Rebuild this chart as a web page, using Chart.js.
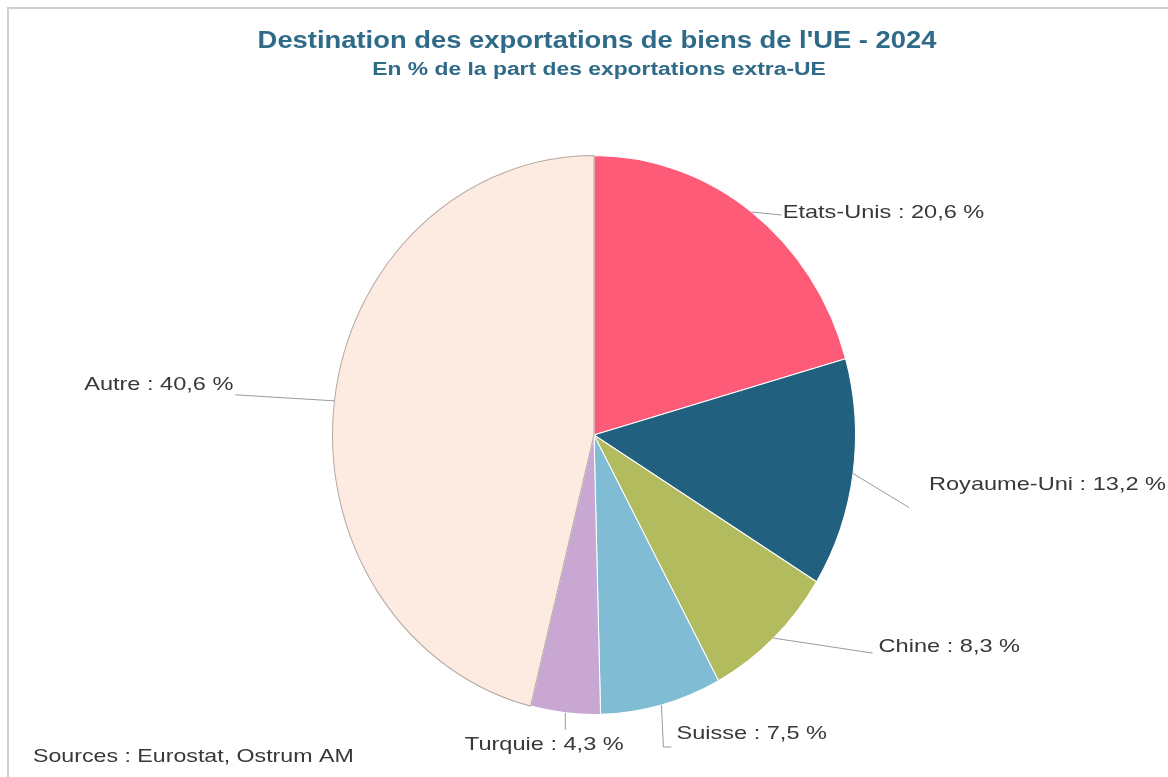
<!DOCTYPE html>
<html>
<head>
<meta charset="utf-8">
<script src="https://cdn.jsdelivr.net/npm/chart.js@4"></script>
<style>
  html, body { margin: 0; padding: 0; background: #fff; }
  #wrap { position: relative; width: 1168px; height: 777px; }
  #frame { position: absolute; left: 7px; top: 7px; right: 0; bottom: 0; border-top: 2px solid #cfcfcf; border-left: 2px solid #cfcfcf; }
  canvas { position: absolute; left: 0; top: 0; }
</style>
</head>
<body>
<div id="wrap">
  <div id="frame"></div>
  <canvas id="pie" width="1168" height="777"></canvas>
</div>
<script>
const CATEGORIES = ["Etats-Unis", "Royaume-Uni", "Chine", "Suisse", "Turquie", "Autre"];
// slice sizes as drawn in the picture (the "Autre" wedge fills the rest of the circle)
const SLICES = [20.6, 13.2, 8.3, 7.5, 4.3, 46.1];
// values printed in the labels
const LABEL_VALUES = ["20,6", "13,2", "8,3", "7,5", "4,3", "40,6"];
const COLORS = ["#fd5b78", "#21607e", "#b2bb5e", "#80bcd4", "#c8a8d3", "#fdebe1"];

const TITLE = "Destination des exportations de biens de l'UE - 2024";
const SUBTITLE = "En % de la part des exportations extra-UE";
const SOURCE = "Sources : Eurostat, Ostrum AM";

const SY = 280 / 262; // the picture is stretched vertically
const FONT = "'Liberation Sans', Arial, sans-serif";

// leader line shapes, relative to the anchor on the pie edge
const LEADERS = [
  { pts: [[30, 3]], tx: 31, ty: 1, align: "left" },
  { pts: [[56, 34]], tx: 76, ty: 11, align: "left" },
  { pts: [[99, 15]], tx: 105, ty: 9, align: "left" },
  { pts: [[2, 42], [10, 42]], tx: 15, ty: 29, align: "left" },
  { pts: [[0, 17]], tx: -21, ty: 32, align: "center" },
  { pts: [[-99, -6]], tx: -101, ty: -16, align: "right" },
];

// text in the picture is wider than normal, so squeeze it out horizontally
function wideText(ctx, text, x, y, align, sx) {
  ctx.save();
  ctx.translate(x, y);
  ctx.scale(sx, 1);
  ctx.textAlign = align;
  ctx.fillText(text, 0, 0);
  ctx.restore();
}

const stretch = {
  id: "stretch",
  beforeDatasetsDraw(chart) {
    const a = chart.getDatasetMeta(0).data[0];
    const ctx = chart.ctx;
    ctx.save();
    ctx.translate(a.x, a.y);
    ctx.scale(1, SY);
    ctx.translate(-a.x, -a.y);
  },
  afterDatasetsDraw(chart) {
    chart.ctx.restore();
  },
};

const labels = {
  id: "labels",
  afterDraw(chart) {
    const ctx = chart.ctx;
    ctx.save();
    ctx.textBaseline = "middle";
    // titles
    ctx.fillStyle = "#2f6a88";
    ctx.font = "bold 23px " + FONT;
    wideText(ctx, TITLE, 597, 42, "center", 1.19);
    ctx.font = "bold 18px " + FONT;
    wideText(ctx, SUBTITLE, 599, 70, "center", 1.27);

    ctx.fillStyle = "#383838";
    ctx.font = "19px " + FONT;
    wideText(ctx, SOURCE, 33, 757, "left", 1.22);

    // slice labels + leader lines
    chart.getDatasetMeta(0).data.forEach((arc, i) => {
      const mid = (arc.startAngle + arc.endAngle) / 2;
      const ax = arc.x + arc.outerRadius * Math.cos(mid);
      const ay = arc.y + arc.outerRadius * Math.sin(mid) * SY;
      const L = LEADERS[i];
      ctx.strokeStyle = "#9a9a9a";
      ctx.lineWidth = 1;
      ctx.beginPath();
      ctx.moveTo(ax, ay);
      L.pts.forEach(p => ctx.lineTo(ax + p[0], ay + p[1]));
      ctx.stroke();
      ctx.fillStyle = "#383838";
      ctx.font = "19px " + FONT;
      wideText(ctx, CATEGORIES[i] + " : " + LABEL_VALUES[i] + " %", ax + L.tx, ay + L.ty, L.align, 1.24);
    });
    ctx.restore();
  },
};

new Chart(document.getElementById("pie"), {
  type: "pie",
  data: {
    labels: CATEGORIES,
    datasets: [{
      data: SLICES,
      backgroundColor: COLORS,
      borderColor: ["#fff", "#fff", "#fff", "#fff", "#fff", "#b5aaa3"],
      borderWidth: 1,
    }],
  },
  options: {
    responsive: false,
    animation: false,
    devicePixelRatio: 1,
    layout: { padding: { left: 332, right: 312, top: 173, bottom: 80 } },
    plugins: { legend: { display: false }, tooltip: { enabled: false } },
  },
  plugins: [stretch, labels],
});
</script>
</body>
</html>
